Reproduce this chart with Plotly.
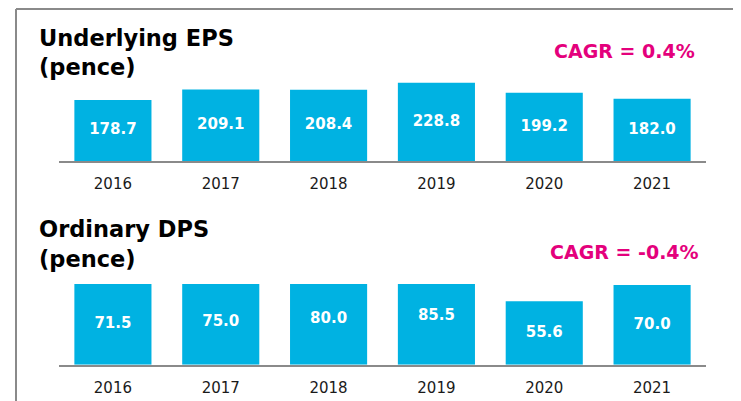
import plotly.graph_objects as go

years = ["2016", "2017", "2018", "2019", "2020", "2021"]
eps_values = [178.7, 209.1, 208.4, 228.8, 199.2, 182.0]
dps_values = [71.5, 75.0, 80.0, 85.5, 55.6, 70.0]
eps_title = ["Underlying EPS", "(pence)"]
dps_title = ["Ordinary DPS", "(pence)"]
eps_cagr = "CAGR = 0.4%"
dps_cagr = "CAGR = -0.4%"

OFF = 8  # page body margin
W, H = 741 - OFF, 401 - OFF
BAR = "#00B2E2"
PINK = "#E4007C"
GREY = "#8a8a8a"
FONT = "DejaVu Sans"


def px(x):
    return (x - OFF) / W


def py(y):
    return 1 - (y - OFF) / H


fig = go.Figure()

for vals, xa, ya in [(eps_values, "x", "y"), (dps_values, "x2", "y2")]:
    fig.add_trace(go.Bar(x=years, y=vals, marker=dict(color=BAR, line=dict(width=0)),
                         xaxis=xa, yaxis=ya, hoverinfo="skip", showlegend=False))
    fig.add_trace(go.Scatter(x=years, y=[v / 2 for v in vals], mode="text",
                             text=[f"{v:.1f}" for v in vals],
                             textfont=dict(family=FONT, size=15, color="white", weight="bold"),
                             xaxis=xa, yaxis=ya, hoverinfo="skip", showlegend=False,
                             cliponaxis=False))

xcommon = dict(type="category", showline=True, linecolor=GREY, linewidth=2,
               showgrid=False, zeroline=False, ticks="", range=[-0.5, 5.5],
               tickfont=dict(family=FONT, size=15, color="#1a1a1a"),
               ticklabelstandoff=8, fixedrange=True)
ycommon = dict(showline=False, showgrid=False, zeroline=False, showticklabels=False,
               ticks="", fixedrange=True)

fig.update_layout(
    width=W, height=H,
    margin=dict(l=0, r=0, t=0, b=0),
    paper_bgcolor="white", plot_bgcolor="rgba(0,0,0,0)",
    bargap=0.285,
    xaxis=dict(domain=[px(59), px(706)], anchor="y", **xcommon),
    yaxis=dict(domain=[py(161.3), py(60)], anchor="x", range=[0, 294.9], **ycommon),
    xaxis2=dict(domain=[px(59), px(706)], anchor="y2", **xcommon),
    yaxis2=dict(domain=[py(364.7), py(284)], anchor="x2", range=[0, 70.8], **ycommon),
)

annotations = []
for lines, ys in [(eps_title, [37.8, 67.3]), (dps_title, [229.3, 259.3])]:
    for txt, yy in zip(lines, ys):
        annotations.append(dict(text=txt, x=px(37), y=py(yy), xref="paper", yref="paper",
                                xanchor="left", yanchor="middle", showarrow=False,
                                font=dict(family=FONT, size=22.5, color="black", weight="bold")))
for txt, xr, yy in [(eps_cagr, 697, 50.7), (dps_cagr, 701, 252)]:
    annotations.append(dict(text=txt, x=px(xr), y=py(yy), xref="paper", yref="paper",
                            xanchor="right", yanchor="middle", showarrow=False,
                            font=dict(family=FONT, size=19, color=PINK, weight="bold")))
fig.update_layout(annotations=annotations)

fig.update_layout(shapes=[
    dict(type="line", xref="paper", yref="paper", x0=px(16), x1=1, y0=py(9), y1=py(9),
         line=dict(color=GREY, width=2)),
    dict(type="line", xref="paper", yref="paper", x0=px(16), x1=px(16), y0=py(9), y1=0,
         line=dict(color=GREY, width=2)),
])

fig.write_html("out.html")
